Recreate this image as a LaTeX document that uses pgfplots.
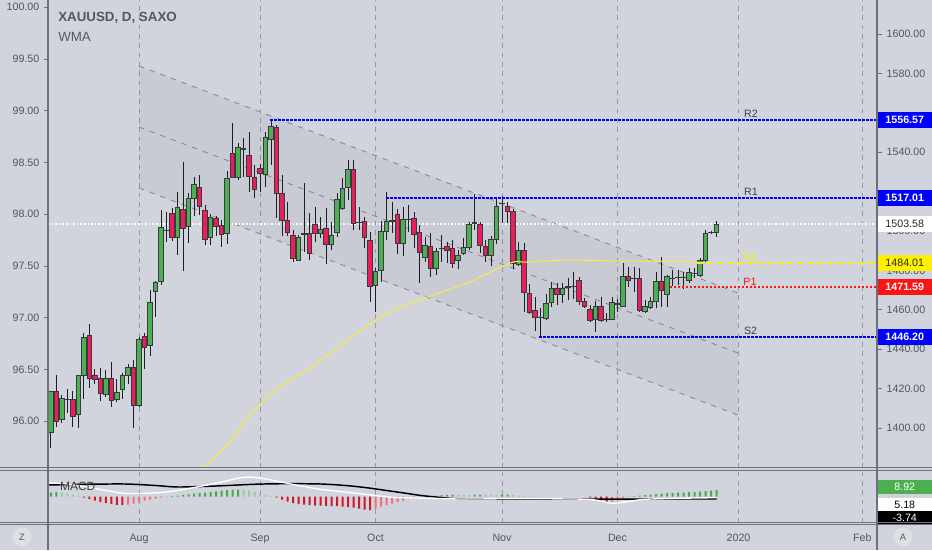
\documentclass[border=0pt]{standalone}
\usepackage{pgfplots}
\pgfplotsset{compat=1.18}
\usepackage{pgfplotstable}
\usepackage{fontspec}
\setmainfont{Liberation Sans}

\definecolor{bg}{RGB}{209,212,220}
\definecolor{framec}{RGB}{110,113,124}
\definecolor{gridc}{RGB}{150,153,162}
\definecolor{labc}{RGB}{82,85,95}
\definecolor{titc}{RGB}{85,88,98}
\definecolor{cgreen}{RGB}{76,175,80}
\definecolor{cred}{RGB}{236,30,90}
\definecolor{cbody}{RGB}{55,58,66}
\definecolor{wick}{RGB}{30,30,34}
\definecolor{pblue}{RGB}{0,0,255}
\definecolor{pred}{RGB}{250,20,20}
\definecolor{pyel}{RGB}{255,240,0}
\definecolor{wma}{RGB}{250,235,60}
\definecolor{chan}{RGB}{140,143,152}
\definecolor{hpr}{RGB}{70,170,75}
\definecolor{hpf}{RGB}{150,205,150}
\definecolor{hnf}{RGB}{205,25,40}
\definecolor{hnr}{RGB}{240,110,120}

\newcommand\lblfont{\fontsize{8}{9.6}\selectfont}

\pgfplotstableread{
i O H L C
-16 1397.7 1418.5 1389.8 1418.4
-15 1418.5 1427.0 1400.5 1403.3
-14 1404.2 1416.8 1402.5 1415.2
-13 1414.4 1419.7 1407.6 1414.7
-12 1414.7 1419.0 1400.5 1405.8
-11 1406.7 1427.0 1400.0 1426.5
-10 1426.5 1448.1 1414.7 1445.9
-9 1446.9 1452.7 1420.2 1425.3
-8 1427.0 1429.9 1422.4 1424.8
-7 1425.3 1430.4 1413.9 1417.7
-6 1416.9 1429.5 1416.0 1425.3
-5 1425.3 1433.7 1410.6 1414.3
-4 1414.7 1424.8 1413.4 1418.0
-3 1419.7 1428.1 1414.7 1426.5
-2 1426.5 1432.6 1422.4 1430.9
-1 1430.9 1434.6 1400.0 1411.3
0 1411.3 1446.1 1410.9 1445.1
1 1446.4 1448.1 1429.9 1441.0
2 1441.8 1470.1 1436.6 1463.8
3 1469.2 1474.8 1456.2 1473.8
4 1474.3 1510.6 1472.6 1501.9
5 1500.3 1509.8 1494.6 1500.6
6 1509.0 1511.6 1495.1 1496.8
7 1496.8 1519.9 1487.8 1512.0
8 1511.0 1535.1 1479.9 1501.4
9 1502.2 1519.4 1494.1 1516.6
10 1516.6 1527.5 1507.6 1523.8
11 1522.1 1528.4 1508.1 1512.3
12 1510.3 1513.2 1492.9 1495.8
13 1496.8 1508.6 1492.9 1507.2
14 1506.4 1507.6 1497.4 1502.5
15 1503.0 1505.6 1492.0 1498.5
16 1498.8 1530.6 1493.4 1526.7
17 1539.4 1554.9 1526.7 1527.5
18 1527.5 1544.8 1525.8 1542.4
19 1541.9 1547.0 1527.5 1541.6
20 1538.5 1550.3 1519.9 1527.9
21 1527.5 1533.4 1516.6 1521.1
22 1531.8 1534.3 1519.9 1529.2
23 1528.9 1550.2 1522.4 1547.5
24 1546.5 1557.1 1533.4 1552.9
25 1552.6 1553.7 1506.6 1519.1
26 1519.1 1528.4 1497.4 1505.6
27 1505.6 1514.8 1497.4 1499.1
28 1498.0 1500.5 1484.4 1486.1
29 1485.3 1498.0 1484.9 1496.8
30 1498.5 1524.5 1489.5 1498.8
31 1498.8 1509.3 1485.3 1488.7
32 1503.5 1512.0 1494.6 1498.8
33 1498.8 1507.2 1496.3 1500.8
34 1501.4 1511.5 1483.3 1493.4
35 1493.4 1504.7 1490.3 1498.0
36 1499.1 1519.1 1496.8 1516.1
37 1511.5 1526.7 1510.6 1521.6
38 1522.1 1536.0 1515.7 1531.3
39 1531.3 1536.0 1500.5 1503.9
40 1504.2 1512.3 1500.5 1504.5
41 1504.7 1507.2 1491.2 1496.8
42 1495.1 1499.6 1464.1 1472.1
43 1472.6 1481.2 1459.1 1479.3
44 1480.2 1505.2 1474.3 1499.6
45 1499.6 1519.9 1495.4 1504.7
46 1505.2 1514.8 1499.1 1505.0
47 1508.6 1511.0 1488.3 1493.7
48 1493.7 1512.3 1487.3 1505.9
49 1505.9 1513.2 1499.6 1506.1
50 1506.4 1509.6 1491.2 1498.5
51 1499.1 1503.0 1473.5 1489.0
52 1486.6 1497.1 1484.4 1492.9
53 1492.4 1498.8 1476.8 1481.1
54 1481.1 1491.2 1477.7 1489.5
55 1491.1 1498.0 1484.4 1491.4
56 1492.0 1494.6 1483.6 1490.0
57 1491.2 1495.4 1481.1 1483.6
58 1485.3 1490.3 1480.6 1487.8
59 1488.7 1496.3 1487.8 1491.7
60 1491.7 1504.7 1490.3 1503.5
61 1504.0 1518.7 1500.8 1504.4
62 1503.5 1504.7 1488.7 1492.9
63 1492.2 1495.4 1484.3 1487.8
64 1487.8 1497.4 1482.2 1495.8
65 1495.8 1516.1 1493.7 1512.7
66 1514.0 1517.7 1503.9 1514.2
67 1512.3 1514.8 1504.2 1509.8
68 1509.8 1511.1 1480.6 1483.6
69 1483.0 1494.6 1482.2 1490.3
70 1490.0 1494.1 1459.1 1468.7
71 1468.2 1473.1 1457.9 1458.6
72 1459.6 1466.7 1449.1 1456.4
73 1456.2 1460.8 1445.6 1456.4
74 1455.9 1468.0 1454.8 1463.2
75 1463.6 1474.3 1461.6 1470.9
76 1470.9 1473.8 1462.5 1468.0
77 1468.0 1473.8 1463.3 1470.9
78 1471.6 1476.4 1465.0 1471.8
79 1471.7 1479.2 1465.5 1471.9
80 1475.1 1476.5 1462.5 1464.3
81 1464.1 1466.0 1460.8 1462.0
82 1460.3 1462.5 1454.0 1454.9
83 1455.2 1464.5 1448.9 1461.6
84 1461.6 1466.7 1453.8 1454.6
85 1455.1 1458.4 1453.8 1455.4
86 1455.2 1466.7 1454.8 1463.6
87 1462.8 1465.5 1459.1 1463.1
88 1462.0 1483.9 1461.6 1477.2
89 1477.2 1481.9 1471.4 1475.1
90 1475.9 1481.6 1469.2 1476.2
91 1476.0 1481.1 1459.1 1459.9
92 1459.1 1465.0 1458.6 1461.6
93 1461.3 1466.7 1460.4 1464.1
94 1464.1 1479.3 1460.8 1474.3
95 1474.3 1486.6 1461.6 1470.1
96 1468.0 1477.7 1461.6 1476.8
97 1475.9 1480.2 1472.1 1476.2
98 1476.4 1480.2 1472.6 1476.7
99 1476.4 1479.3 1470.4 1476.7
100 1475.1 1481.1 1473.8 1478.8
101 1478.4 1481.1 1476.0 1478.7
102 1477.7 1486.1 1476.8 1485.3
103 1485.3 1500.8 1484.4 1498.8
104 1499.1 1500.0 1498.5 1499.3
105 1499.4 1504.9 1497.1 1503.6
}\candles

% MACD histogram: positive rising / falling, negative falling / rising
\pgfplotstableread{
i v
-16 4
-15 4.3
6 0.3
7 0.8
8 1.5
9 2.2
10 3
11 3.5
12 4
13 4.5
14 5.2
15 5.8
16 6.3
17 6.8
18 7
52 0.2
53 0.5
54 1
55 1.3
56 1.6
57 1.8
61 1.8
62 2
66 1.8
67 1.9
90 0.3
91 1
92 1.5
93 2
94 2.5
95 3
96 3.3
97 3.5
98 3.8
99 4
100 4.3
101 4.6
102 5
103 5.5
104 6
105 6.5
}\hPR
\pgfplotstableread{
i v
-14 4
-13 3
-12 2
-11 1
19 6.8
20 6
21 4.5
22 3
23 1.8
24 0.6
58 1.7
59 1.5
60 1.4
63 1.8
64 1.5
65 1.4
68 1.5
69 1
70 0.5
71 0.3
72 0.2
}\hPF
\pgfplotstableread{
i v
-10 -1
-9 -2.5
-8 -4
-7 -5.5
-6 -6.5
-5 -7.5
-4 -8.3
-3 -8.5
25 -1
26 -3
27 -5
28 -6.5
29 -7.5
30 -8
31 -8.5
32 -9
33 -9.1
34 -9.3
35 -9.5
36 -9.6
37 -10
38 -10.5
39 -11
40 -12
41 -13
42 -13.5
82 -1
83 -2.5
84 -4
85 -6
}\hNF
\pgfplotstableread{
i v
-2 -8
-1 -7
0 -5.5
1 -4
2 -3
3 -2
4 -1
5 -0.5
43 -12
44 -10
45 -8.5
46 -7
47 -5.5
48 -4
49 -2.5
50 -1.2
51 -0.5
86 -5
87 -3
88 -1.5
89 -0.5
}\hNR

\pgfplotsset{
  pane/.style={at={(36pt,0pt)}, anchor=north west, scale only axis,
    width=621.75pt, height=351pt, xmin=-16.545, xmax=134.18,
    ymin=1379.74, ymax=1617.3},
}

\begin{document}
\begin{tikzpicture}
\useasboundingbox (0pt,0pt) rectangle (699pt,-412.5pt);
\fill[bg] (0pt,0pt) rectangle (699pt,-412.5pt);

% ---------- main pane: grid, channel, wicks ----------
\begin{axis}[pane, axis line style={draw=none},
  xtick={0,22,43,66,87,109,131.5}, xticklabels={}, xtick style={draw=none},
  xmajorgrids, major grid style={gridc, line width=0.75pt, dash pattern=on 3.5pt off 3.5pt},
  ytick={1400,1420,1440,1460,1480,1500,1540,1580,1600}, ytick pos=right, yticklabel pos=right,
  tick align=outside, major tick length=3.75pt,
  ytick style={framec, line width=0.75pt},
  yticklabel style={font=\lblfont, text=labc},
  /pgf/number format/fixed, /pgf/number format/fixed zerofill,
  /pgf/number format/precision=2, /pgf/number format/1000 sep={},
  /pgf/number format/assume math mode=true]
\addplot[draw=none, fill=black, fill opacity=0.04] coordinates {(0,1583.8) (108.9,1468.6) (108.9,1406.6) (0,1521.9)} --cycle;
\addplot[chan, line width=0.75pt, dash pattern=on 4pt off 4.5pt] coordinates {(0,1583.8) (108.9,1468.6)};
\addplot[chan, line width=0.75pt, dash pattern=on 4pt off 4.5pt] coordinates {(0,1552.8) (108.9,1438.1)};
\addplot[chan, line width=0.75pt, dash pattern=on 4pt off 4.5pt] coordinates {(0,1521.9) (108.9,1406.6)};
\addplot[white, line width=0.9pt, dash pattern=on 1.2pt off 1.5pt] coordinates {(-16.545,1503.58) (134.18,1503.58)};
\addplot[draw=none, mark=none, error bars/.cd, y dir=minus, y explicit, error mark=none,
  error bar style={draw=wick, solid, line width=0.75pt}]
  table[x=i, y=H, y error expr=\thisrow{H}-\thisrow{L}] {\candles};
\end{axis}

% ---------- candle bodies ----------
\begin{axis}[pane, hide axis, ybar stacked, bar width=0.85]
\addplot[draw=none, fill=none] table[x=i, y expr={min(\thisrow{O},\thisrow{C})}] {\candles};
\addplot[fill=cgreen, draw=cbody, line width=0.6pt] table[x=i, y expr={max(\thisrow{C}-\thisrow{O},0)}] {\candles};
\addplot[fill=cred, draw=cbody, line width=0.6pt] table[x=i, y expr={max(\thisrow{O}-\thisrow{C},0)}] {\candles};
\end{axis}

% ---------- WMA, pivots, labels ----------
\begin{axis}[pane, hide axis, clip mode=individual]
\addplot[wma, line width=0.8pt, smooth] coordinates {
(11.1,1378.7) (16,1391.4) (20.2,1406.6) (25.6,1420.9) (31.1,1430.5) (38.4,1445.7)
(45.1,1458.4) (52.4,1466.5) (59.6,1473.6) (67.5,1483.8) (70.5,1484.3) (77.8,1485.3)
(87.5,1484.8) (94.7,1484.8) (101.5,1484.3)};
\addplot[pblue, line width=1.1pt, dash pattern=on 2pt off 1pt] coordinates {(23.9,1556.4) (134.18,1556.4)};
\addplot[pblue, line width=1.1pt, dash pattern=on 2pt off 1pt] coordinates {(44.9,1516.7) (134.18,1516.7)};
\addplot[pblue, line width=1.1pt, dash pattern=on 2pt off 1pt] coordinates {(72.8,1446.20) (134.18,1446.20)};
\addplot[pred, line width=1.1pt, dash pattern=on 2pt off 1pt] coordinates {(96.5,1471.59) (134.18,1471.59)};
\addplot[pyel, line width=1.5pt, dash pattern=on 4.5pt off 3pt] coordinates {(101.5,1484.01) (134.18,1484.01)};
\node[anchor=south west, inner sep=1.5pt, font=\lblfont, text=black!75] at (axis cs:109.6,1556.57) {R2};
\node[anchor=south west, inner sep=1.5pt, font=\lblfont, text=black!75] at (axis cs:109.6,1517.01) {R1};
\node[anchor=south west, inner sep=1pt, font=\lblfont, text=pyel] at (axis cs:109.6,1484.01) {S1};
\node[anchor=south west, inner sep=1pt, font=\lblfont, text=pred] at (axis cs:109.6,1471.59) {P1};
\node[anchor=south west, inner sep=1.5pt, font=\lblfont, text=black!75] at (axis cs:109.6,1446.20) {S2};
\tikzset{pbox/.style={anchor=west, minimum width=41.25pt, minimum height=12pt, inner sep=0pt, font=\bfseries\lblfont}}
\node[pbox, fill=pblue, text=white] at (axis cs:134.18,1556.57) {1556.57};
\node[pbox, fill=pblue, text=white] at (axis cs:134.18,1517.01) {1517.01};
\node[pbox, fill=white, text=black!85, font=\lblfont] at (axis cs:134.18,1503.58) {1503.58};
\node[pbox, fill=pyel, text=black!85, font=\lblfont] at (axis cs:134.18,1484.01) {1484.01};
\node[pbox, fill=pred, text=white] at (axis cs:134.18,1471.59) {1471.59};
\node[pbox, fill=pblue, text=white] at (axis cs:134.18,1446.20) {1446.20};
\end{axis}

% ---------- left price scale ----------
\begin{axis}[at={(36pt,0pt)}, anchor=north west, scale only axis,
  width=621.75pt, height=351pt, xmin=0, xmax=1, ymin=95.549, ymax=100.0705,
  axis line style={draw=none}, xtick=\empty,
  ytick={96,96.5,...,100}, ytick pos=left, yticklabel pos=left,
  tick align=outside, major tick length=3pt,
  ytick style={framec, line width=0.75pt},
  yticklabel style={font=\lblfont, text=labc},
  /pgf/number format/fixed, /pgf/number format/fixed zerofill,
  /pgf/number format/precision=2, /pgf/number format/assume math mode=true]
\end{axis}

% ---------- MACD pane ----------
\begin{axis}[at={(36pt,-352.5pt)}, anchor=north west, scale only axis,
  width=621.75pt, height=39.75pt, xmin=-16.545, xmax=134.18, ymin=-26.5, ymax=26.5,
  axis line style={draw=none}, ytick=\empty,
  xtick={0,22,43,66,87,109,131.5}, xticklabels={Aug,Sep,Oct,Nov,Dec,2020,Feb},
  xtick style={draw=none}, major tick length=0pt,
  xmajorgrids, major grid style={gridc, line width=0.75pt, dash pattern=on 3.5pt off 3.5pt},
  xticklabel style={anchor=base, yshift=-13.5pt, font=\lblfont, text=labc},
  clip mode=individual]
\addplot[ybar, bar width=1.5pt, bar shift=0pt, fill=hpr, draw=none] table[x=i, y=v] {\hPR};
\addplot[ybar, bar width=1.5pt, bar shift=0pt, fill=hpf, draw=none] table[x=i, y=v] {\hPF};
\addplot[ybar, bar width=1.5pt, bar shift=0pt, fill=hnf, draw=none] table[x=i, y=v] {\hNF};
\addplot[ybar, bar width=1.5pt, bar shift=0pt, fill=hnr, draw=none] table[x=i, y=v] {\hNR};
\addplot[black, line width=1.1pt, smooth] coordinates {
(-16.5,11.5) (-10,12.2) (-2.5,12.5) (3,11) (7.1,9.5) (14,10.5) (21.3,12.3) (27,12.8)
(33.1,12.5) (38,10.8) (41.8,8.5) (45,6) (48.2,3.5) (51,1.2) (53.6,-0.3) (58,-2.3)
(65,-2.6) (80,-2.6) (95,-2.5) (105,-2.4)};
\addplot[white, line width=1pt, smooth] coordinates {
(-16.5,13.8) (-13,12.5) (-9,9) (-5,5) (-3,3.3) (0,3) (5,4.5) (10,9) (15,14.5) (19,19.2)
(22,18.5) (25.5,14.8) (29,11) (33,7.2) (39.6,3.2) (46,-0.8) (50.4,-1.5) (55,-2) (59,-2.5)
(70,-2.2) (80,-2.6) (83,-3.5) (86,-6.8) (89,-5) (91.5,-3) (96,-2) (105,-1.2)};
\node[anchor=west, inner sep=0pt, font=\fontsize{9}{10}\selectfont, text=black!75] at (axis cs:-14.4,10) {MACD};
\tikzset{mbox/.style={anchor=west, minimum width=41.25pt, minimum height=10.5pt, inner sep=0pt, font=\lblfont}}
\node[mbox, fill=cgreen, text=white] at (axis cs:134.18,10) {8.92};
\node[mbox, fill=white, text=black] at (axis cs:134.18,-8) {5.18};
\node[mbox, fill=black, text=white] at (axis cs:134.18,-21) {-3.74};
\end{axis}

% ---------- frame lines ----------
\draw[framec, line width=0.9pt] (36pt,0pt) -- (36pt,-412.5pt);
\draw[framec, line width=0.9pt] (657.75pt,0pt) -- (657.75pt,-412.5pt);
\draw[framec, line width=0.75pt] (0pt,-350.6pt) -- (699pt,-350.6pt);
\draw[framec, line width=0.75pt] (0pt,-352.5pt) -- (699pt,-352.5pt);
\draw[framec, line width=0.75pt] (0pt,-392.2pt) -- (699pt,-392.2pt);
\draw[framec, line width=0.75pt] (0pt,-393.4pt) -- (699pt,-393.4pt);

% ---------- titles and buttons ----------
\node[anchor=west, inner sep=0pt, font=\bfseries\fontsize{10}{12}\selectfont, text=titc] at (43.5pt,-13.5pt) {XAUUSD, D, SAXO};
\node[anchor=west, inner sep=0pt, font=\fontsize{10}{12}\selectfont, text=titc] at (43.5pt,-27.75pt) {WMA};
\node[circle, fill=white, fill opacity=0.3, text opacity=1, minimum size=14pt, inner sep=0pt, font=\fontsize{7}{8}\selectfont, text=labc] at (16.5pt,-402.75pt) {Z};
\node[circle, fill=white, fill opacity=0.3, text opacity=1, minimum size=14pt, inner sep=0pt, font=\fontsize{7}{8}\selectfont, text=labc] at (677.25pt,-402.75pt) {A};
\end{tikzpicture}
\end{document}
